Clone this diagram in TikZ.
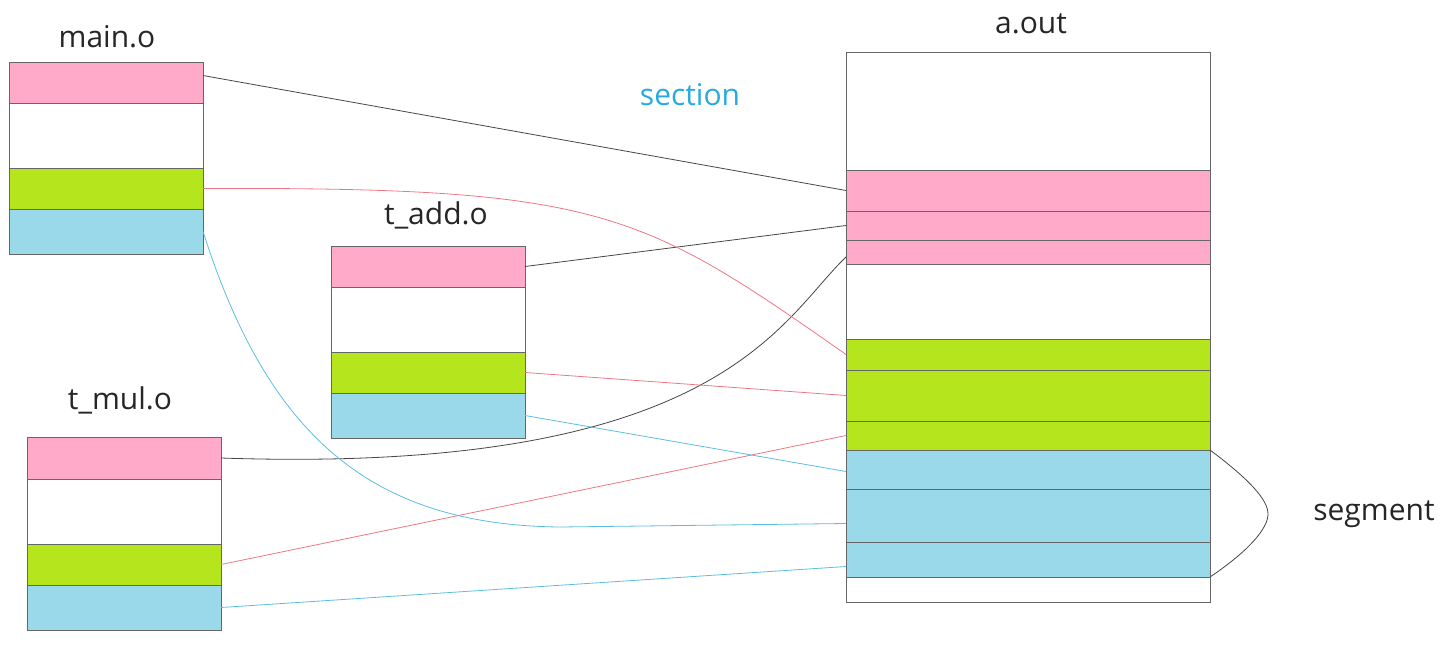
\documentclass[tikz,border=0pt]{standalone}
\usepackage{fontspec}
\setmainfont{Open Sans}
\definecolor{secpink}{RGB}{255,170,200}
\definecolor{secgreen}{RGB}{181,230,29}
\definecolor{secblue}{RGB}{153,217,234}
\definecolor{linkred}{RGB}{238,120,130}
\definecolor{linkblue}{RGB}{90,190,225}
\definecolor{linkgray}{RGB}{70,70,70}
\definecolor{sectext}{RGB}{40,170,225}
\begin{document}
\begin{tikzpicture}[x=1pt, y=-1pt,
    objstrip/.style={rectangle, draw=black!60, anchor=north west, inner sep=0pt, outer sep=0pt, minimum width=194pt},
    outstrip/.style={rectangle, draw=black!60, anchor=north west, inner sep=0pt, outer sep=0pt, minimum width=364pt},
    labelstyle/.style={font=\fontsize{30}{36}\selectfont, text=black!85},
    grayline/.style={draw=linkgray, line width=0.8pt},
    redline/.style={draw=linkred, line width=0.8pt},
    blueline/.style={draw=linkblue, line width=0.8pt}
]
    \useasboundingbox (0,0) rectangle (1445,646);

    % main.o
    \node[labelstyle] (mainlabel) at (107,37) {main.o};
    \node[objstrip, fill=secpink, minimum height=41pt] (mainpink) at (9,62) {};
    \node[objstrip, fill=white, minimum height=65pt] (mainwhite) at (9,103) {};
    \node[objstrip, fill=secgreen, minimum height=41pt] (maingreen) at (9,168) {};
    \node[objstrip, fill=secblue, minimum height=45pt] (mainblue) at (9,209) {};

    % t_add.o
    \node[labelstyle] (addlabel) at (436,215) {t\_add.o};
    \node[objstrip, fill=secpink, minimum height=41pt] (addpink) at (331,246) {};
    \node[objstrip, fill=white, minimum height=65pt] (addwhite) at (331,287) {};
    \node[objstrip, fill=secgreen, minimum height=41pt] (addgreen) at (331,352) {};
    \node[objstrip, fill=secblue, minimum height=45pt] (addblue) at (331,393) {};

    % t_mul.o
    \node[labelstyle] (mullabel) at (120,400) {t\_mul.o};
    \node[objstrip, fill=secpink, minimum height=42pt] (mulpink) at (27,437) {};
    \node[objstrip, fill=white, minimum height=65pt] (mulwhite) at (27,479) {};
    \node[objstrip, fill=secgreen, minimum height=41pt] (mulgreen) at (27,544) {};
    \node[objstrip, fill=secblue, minimum height=45pt] (mulblue) at (27,585) {};

    % a.out
    \node[labelstyle] (outlabel) at (1031,24) {a.out};
    \node[outstrip, fill=white, minimum height=118pt] (outtop) at (846,52) {};
    \node[outstrip, fill=secpink, minimum height=41pt] (outpinka) at (846,170) {};
    \node[outstrip, fill=secpink, minimum height=29pt] (outpinkb) at (846,211) {};
    \node[outstrip, fill=secpink, minimum height=24pt] (outpinkc) at (846,240) {};
    \node[outstrip, fill=white, minimum height=75pt] (outwhite) at (846,264) {};
    \node[outstrip, fill=secgreen, minimum height=31pt] (outgreena) at (846,339) {};
    \node[outstrip, fill=secgreen, minimum height=51pt] (outgreenb) at (846,370) {};
    \node[outstrip, fill=secgreen, minimum height=29pt] (outgreenc) at (846,421) {};
    \node[outstrip, fill=secblue, minimum height=39pt] (outbluea) at (846,450) {};
    \node[outstrip, fill=secblue, minimum height=53pt] (outblueb) at (846,489) {};
    \node[outstrip, fill=secblue, minimum height=35pt] (outbluec) at (846,542) {};
    \node[outstrip, fill=white, minimum height=25pt] (outbottom) at (846,577) {};

    \node[labelstyle, text=sectext] (sectionlabel) at (690,95) {section};
    \node[labelstyle] (segmentlabel) at (1374,514) {segment};

    % links
    \draw[grayline] ([yshift=7pt]mainpink.east) -- (outpinka.west);
    \draw[grayline] (addpink.east) -- (outpinkb.west);
    \draw[grayline] (mulpink.east) .. controls (720,475) and (780,320) .. ([yshift=-5pt]outpinkc.west);

    \draw[redline] (maingreen.east) .. controls (600,187) and (640,210) .. (outgreena.west);
    \draw[redline] (addgreen.east) -- (outgreenb.west);
    \draw[redline] (mulgreen.east) -- (outgreenc.west);

    \draw[blueline] (mainblue.east) .. controls (268,435) and (370,525) .. (560,527) -- ([yshift=-8pt]outblueb.west);
    \draw[blueline] (addblue.east) -- ([yshift=-2pt]outbluea.west);
    \draw[blueline] (mulblue.east) -- ([yshift=-7pt]outbluec.west);

    % segment bracket
    \draw[grayline] (outbluea.north east) .. controls (1250,480) and (1268,500) .. (1268,514)
        .. controls (1268,528) and (1250,550) .. (outbluec.south east);
\end{tikzpicture}
\end{document}
